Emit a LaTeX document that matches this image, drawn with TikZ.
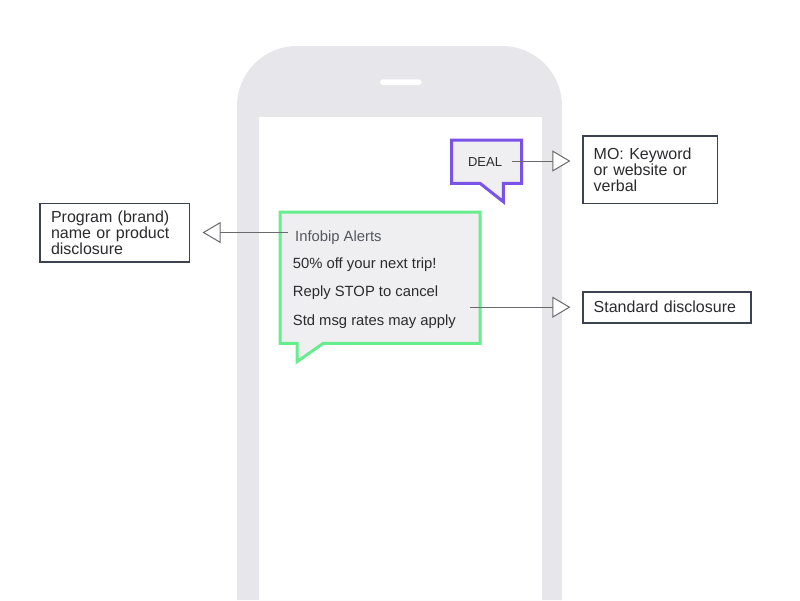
\documentclass[tikz,border=0pt]{standalone}
\usepackage{fontspec}
\setmainfont{Liberation Sans}
\usetikzlibrary{arrows.meta}
\definecolor{phonegray}{HTML}{E6E6EB}
\definecolor{bubblefill}{HTML}{EFEFF2}
\definecolor{smsgreen}{HTML}{66EE8C}
\definecolor{moviolet}{HTML}{7A52E6}
\definecolor{boxline}{HTML}{3D4250}
\definecolor{pointergray}{HTML}{6A6A6E}
\definecolor{textdark}{HTML}{2B2B2E}
\definecolor{textsoft}{HTML}{55575E}

\begin{document}
\begin{tikzpicture}
  [x=1pt,y=-1pt,
   every node/.style={inner sep=0pt,
                      text=textdark},
   infobox/.style={draw=boxline,
                   line width=1.6pt,
                   fill=white,
                   align=left,
                   inner xsep=11pt,
                   font=\fontsize{16}{16}\selectfont},
   smsline/.style={anchor=base west,
                   font=\fontsize{14.8}{16}\selectfont},
   bubble/.style={fill=bubblefill,
                  line width=3pt,
                  line join=miter},
   pointer/.style={draw=pointergray,
                   line width=1pt,
                   -{Triangle[length=18pt,width=21pt,fill=white]},
                   shorten >=11.5pt}]
  \useasboundingbox (0,0) rectangle (800,600);

  % phone
  \fill[phonegray, rounded corners=60pt] (237,600) -- (237,46) -- (562,46) -- (562,600);
  \fill[white] (259,117.3) rectangle (541.7,600);
  \fill[white, rounded corners=2.8pt] (380,79.3) rectangle (421.7,85);

  % bubbles
  \draw[bubble, draw=moviolet] (451.7,140) -- (521.7,140) -- (521.7,183.3)
     -- (503.3,183.3) -- (503.3,201.7) -- (480,183.3) -- (451.7,183.3) -- cycle;
  \draw[bubble, draw=smsgreen] (280,212) -- (480,212) -- (480,343.3)
     -- (323.3,343.3) -- (297,361.7) -- (297,343.3) -- (280,343.3) -- cycle;

  \node[anchor=base, font=\fontsize{13}{13}\selectfont] (deal) at (485,166.7) {DEAL};
  \node[smsline, text=textsoft] (alerts) at (295,241.7) {Infobip Alerts};
  \node[smsline] (offer) at (292.7,268.3) {50\% off your next trip!};
  \node[smsline] (stop) at (292.7,296.7) {Reply STOP to cancel};
  \node[smsline] (rates) at (292.7,325.7) {Std msg rates may apply};

  % labels
  \node[infobox, text width=127.3pt, minimum height=58.4pt] (program) at (114.7,232.5)
     {Program (brand)\\name or product\\disclosure};
  \node[infobox, text width=112.6pt, minimum height=67.3pt] (mo) at (650,169.7)
     {MO: Keyword\\or website or\\verbal};
  \node[infobox, text width=146pt, minimum height=31pt] (std) at (666.7,307.2)
     {Standard disclosure};

  \coordinate (dealfrom) at (511.7,161);
  \coordinate (alertsfrom) at (288,232.5);
  \coordinate (ratesfrom) at (470,307.2);
  \draw[pointer] (dealfrom) -- (dealfrom -| mo.west);
  \draw[pointer, shorten >=12.4pt] (alertsfrom) -- (program.east);
  \draw[pointer] (ratesfrom) -- (std.west);
\end{tikzpicture}
\end{document}
